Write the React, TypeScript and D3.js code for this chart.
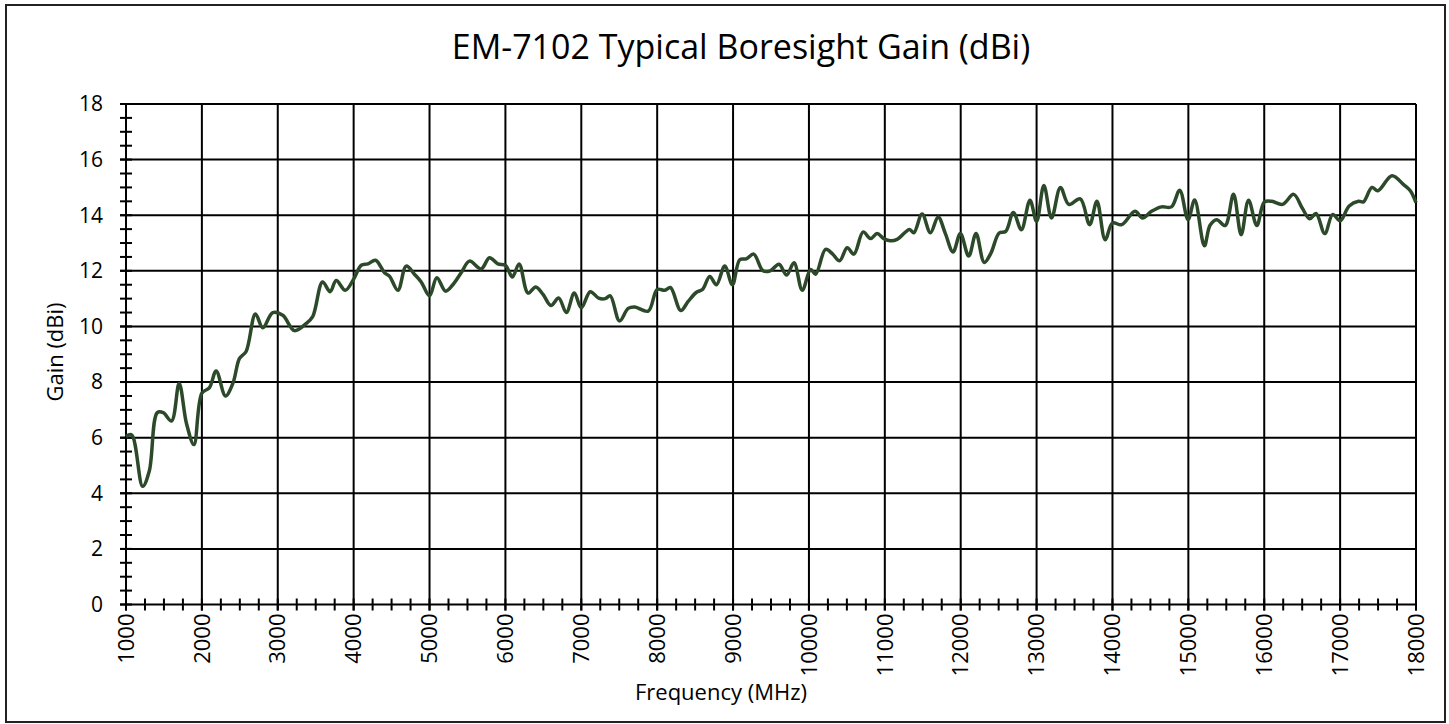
import * as d3 from 'd3';

const freqMHz = [
  1000, 1075, 1219, 1307, 1412, 1490, 1600, 1700, 1798, 1895,
  2000, 2100, 2188, 2311, 2408, 2496, 2583, 2706, 2803, 2934,
  3066, 3219, 3372, 3460, 3590, 3690, 3770, 3890, 4000, 4100,
  4189, 4289, 4408, 4474, 4583, 4693, 4803, 4890, 5000, 5096,
  5211, 5307, 5417, 5526, 5680, 5790, 5900, 6000, 6092, 6180,
  6298, 6399, 6496, 6600, 6702, 6803, 6908, 7000, 7118, 7228,
  7316, 7382, 7504, 7618, 7706, 7882, 8000, 8101, 8175, 8311,
  8408, 8518, 8597, 8693, 8781, 8890, 8991, 9088, 9175, 9272,
  9395, 9490, 9605, 9706, 9803, 9912, 10022, 10088, 10219, 10307,
  10404, 10504, 10592, 10715, 10811, 10899, 10987, 11075, 11162, 11325,
  11382, 11491, 11601, 11702, 11798, 11899, 11996, 12105, 12202, 12310,
  12397, 12507, 12594, 12694, 12799, 12913, 13000, 13096, 13197, 13314,
  13424, 13576, 13699, 13795, 13904, 14000, 14122, 14297, 14397, 14515,
  14646, 14777, 14886, 14996, 15083, 15211, 15286, 15374, 15485, 15595,
  15696, 15793, 15903, 16000, 16101, 16242, 16388, 16498, 16599, 16683,
  16797, 16903, 17000, 17119, 17242, 17308, 17419, 17498, 17683, 17837,
  17925, 18000,
];

const gainDbi = [
  6.04, 6.1, 4.25, 4.8, 6.9, 6.9, 6.6, 7.95, 6.5, 5.75,
  7.6, 7.8, 8.4, 7.5, 7.95, 8.85, 9.1, 10.45, 9.95, 10.5,
  10.4, 9.85, 10.1, 10.35, 11.6, 11.25, 11.65, 11.3, 11.7, 12.2,
  12.25, 12.38, 11.93, 11.8, 11.3, 12.17, 11.87, 11.6, 11.1, 11.75,
  11.27, 11.5, 11.93, 12.35, 12.07, 12.47, 12.25, 12.2, 11.78, 12.25,
  11.2, 11.42, 11.15, 10.75, 11.02, 10.5, 11.2, 10.67, 11.25, 11.02,
  11.0, 11.1, 10.2, 10.65, 10.7, 10.55, 11.33, 11.3, 11.4, 10.57,
  10.9, 11.23, 11.33, 11.8, 11.5, 12.17, 11.5, 12.4, 12.43, 12.6,
  12.0, 12.0, 12.24, 11.85, 12.29, 11.3, 12.05, 11.88, 12.77, 12.62,
  12.36, 12.83, 12.6, 13.4, 13.16, 13.34, 13.16, 13.08, 13.13, 13.49,
  13.37, 14.04, 13.37, 13.94, 13.34, 12.68, 13.34, 12.53, 13.34, 12.3,
  12.63, 13.36, 13.42, 14.1, 13.48, 14.54, 13.78, 15.07, 13.9, 15.0,
  14.39, 14.59, 13.66, 14.5, 13.12, 13.72, 13.66, 14.14, 13.9, 14.14,
  14.3, 14.3, 14.9, 13.84, 14.55, 12.9, 13.64, 13.84, 13.63, 14.75,
  13.3, 14.54, 13.63, 14.47, 14.5, 14.39, 14.75, 14.27, 13.87, 14.06,
  13.34, 14.03, 13.8, 14.33, 14.5, 14.48, 15.0, 14.88, 15.42, 15.1,
  14.88, 14.45,
];

const xMajorTicks = d3.range(1000, 18001, 1000);
const xMinorTicks = d3.range(1000, 18001, 250);
const yMajorTicks = d3.range(0, 19, 2);
const yMinorTicks = d3.range(0, 18.01, 0.5);

const W = 1449;
const H = 724;
const FONT = "'Open Sans', 'DejaVu Sans', sans-serif";

export default function App() {
  const x = d3.scaleLinear().domain([1000, 18000]).range([126, 1416]);
  const y = d3.scaleLinear().domain([0, 18]).range([604.5, 104]);

  const points: [number, number][] = freqMHz.map((f, i) => [f, gainDbi[i]]);
  const line = d3
    .line<[number, number]>()
    .x((d) => x(d[0]))
    .y((d) => y(d[1]))
    .curve(d3.curveCatmullRom.alpha(0.5));

  const x0 = x(1000);
  const x1 = x(18000);
  const y0 = y(0);
  const y1 = y(18);

  return (
    <svg
      width={W}
      height={H}
      style={{ position: 'absolute', left: 0, top: 0, background: '#fff' }}
      fontFamily={FONT}
    >
      <rect x={6} y={5} width={1439} height={717} fill="#fff" stroke="#222" strokeWidth={2} />

      <text x={741} y={59} textAnchor="middle" fontSize={34} fill="#000">
        EM-7102 Typical Boresight Gain (dBi)
      </text>

      {/* grid */}
      {yMajorTicks.map((t) => (
        <line key={'gy' + t} x1={x0 - 6} x2={x1} y1={y(t)} y2={y(t)} stroke="#000" strokeWidth={2} />
      ))}
      {xMajorTicks.map((t) => (
        <line key={'gx' + t} x1={x(t)} x2={x(t)} y1={y1} y2={y0 + 6} stroke="#000" strokeWidth={2} />
      ))}

      {/* minor ticks crossing the axes */}
      {yMinorTicks.map((t) => (
        <line key={'my' + t} x1={x0 - 6} x2={x0 + 6} y1={y(t)} y2={y(t)} stroke="#000" strokeWidth={2} />
      ))}
      {xMinorTicks.map((t) => (
        <line key={'mx' + t} x1={x(t)} x2={x(t)} y1={y0 - 6} y2={y0 + 6} stroke="#000" strokeWidth={2} />
      ))}

      {/* y tick labels */}
      {yMajorTicks.map((t) => (
        <text key={'ly' + t} x={103} y={y(t)} dy="0.35em" textAnchor="end" fontSize={21} fill="#000">
          {t}
        </text>
      ))}

      {/* x tick labels */}
      {xMajorTicks.map((t) => (
        <text
          key={'lx' + t}
          transform={`translate(${x(t)},${y0 + 9}) rotate(-90)`}
          dy="0.35em"
          textAnchor="end"
          fontSize={22}
          fill="#000"
        >
          {t}
        </text>
      ))}

      <text x={721} y={700} textAnchor="middle" fontSize={22} fill="#000">
        Frequency (MHz)
      </text>
      <text transform="translate(55,352) rotate(-90)" dy="0.35em" textAnchor="middle" fontSize={22} fill="#000">
        Gain (dBi)
      </text>

      <path d={line(points) ?? ''} fill="none" stroke="#2c4a2a" strokeWidth={3.5} strokeLinejoin="round" />
    </svg>
  );
}
